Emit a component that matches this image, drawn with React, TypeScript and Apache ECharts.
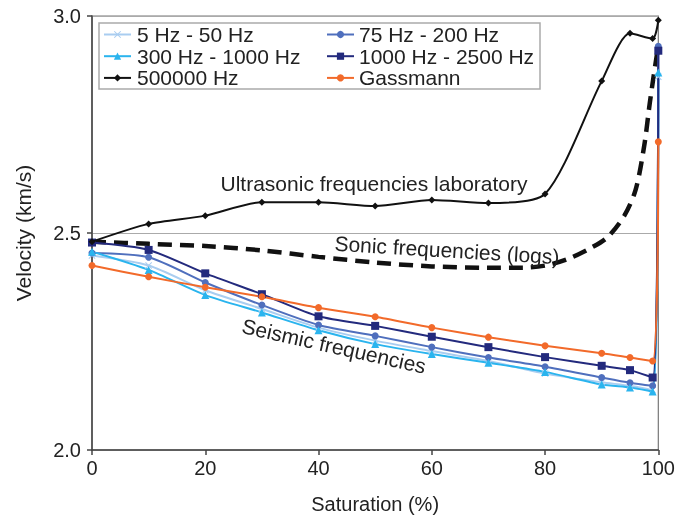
import React, { useEffect, useRef } from 'react';
import * as echarts from 'echarts';

const saturation = [0, 10, 20, 30, 40, 50, 60, 70, 80, 90, 95, 99, 100];
const hz5to50 = [2.448, 2.425, 2.368, 2.325, 2.282, 2.252, 2.228, 2.205, 2.176, 2.156, 2.148, 2.138, 2.86];
const hz75to200 = [2.454, 2.444, 2.386, 2.334, 2.288, 2.263, 2.237, 2.213, 2.192, 2.167, 2.155, 2.148, 2.93];
const hz300to1000 = [2.457, 2.415, 2.357, 2.317, 2.276, 2.244, 2.221, 2.201, 2.18, 2.151, 2.144, 2.135, 2.87];
const hz1000to2500 = [2.478, 2.461, 2.407, 2.359, 2.308, 2.286, 2.261, 2.237, 2.214, 2.194, 2.184, 2.167, 2.92];
const hz500000 = [2.48, 2.521, 2.54, 2.571, 2.571, 2.562, 2.576, 2.569, 2.59, 2.85, 2.96, 2.948, 2.99];
const gassmann = [2.425, 2.399, 2.375, 2.353, 2.328, 2.307, 2.282, 2.26, 2.24, 2.223, 2.213, 2.205, 2.71];

const sonicSaturation = [0, 10, 20, 30, 40, 50, 60, 70, 76, 80, 84, 88, 91, 94, 96, 97.5, 98.5, 99.5, 100];
const sonicVelocity = [2.48, 2.475, 2.47, 2.46, 2.445, 2.432, 2.423, 2.42, 2.42, 2.425, 2.44, 2.465, 2.49, 2.54, 2.6, 2.7, 2.8, 2.89, 2.93];

const xTicks = [0, 20, 40, 60, 80, 100];
const yTicks = ['2.0', '2.5', '3.0'];

const FONT = "'Liberation Sans', Arial, sans-serif";

const pair = (xs: number[], ys: number[]) => xs.map((x, i) => [x, ys[i]]);

const crossPath = 'path://M0,1L1,0L5,4L9,0L10,1L6,5L10,9L9,10L5,6L1,10L0,9L4,5Z';

export default function App() {
  const ref = useRef<HTMLDivElement>(null);
  useEffect(() => {
    if (!ref.current) return;
    const chart = echarts.init(ref.current, undefined, { renderer: 'svg' });
    const mk = (name: string, ys: number[], color: string, symbol: string, size: number, extra: any = {}) => ({
      name,
      type: 'line',
      data: pair(saturation, ys),
      smooth: 0.25,
      symbol,
      symbolSize: size,
      lineStyle: { color, width: 2 },
      itemStyle: { color },
      z: 3,
      ...extra,
    });
    chart.setOption({
      animation: false,
      grid: { left: 92, right: 16, top: 16, bottom: 67, show: true, borderColor: '#777', borderWidth: 1.2 },
      xAxis: {
        type: 'value',
        min: 0,
        max: 100,
        interval: 20,
        name: 'Saturation (%)',
        nameLocation: 'middle',
        nameGap: 44,
        nameTextStyle: { fontSize: 20, color: '#222', fontFamily: FONT },
        axisLine: { show: true, lineStyle: { color: '#444', width: 1.5 } },
        axisTick: { show: true, inside: false, length: 5, lineStyle: { color: '#444', width: 1.5 } },
        axisLabel: {
          fontSize: 20,
          color: '#222',
          fontFamily: FONT,
          margin: 8,
          formatter: (v: number) => (xTicks.includes(v) ? String(v) : ''),
        },
        splitLine: { show: false },
      },
      yAxis: {
        type: 'value',
        min: 2.0,
        max: 3.0,
        interval: 0.5,
        name: 'Velocity (km/s)',
        nameLocation: 'middle',
        nameGap: 58,
        nameRotate: 90,
        nameTextStyle: { fontSize: 21, color: '#222', fontFamily: FONT },
        axisLine: { show: true, lineStyle: { color: '#444', width: 1.5 } },
        axisTick: { show: true, inside: false, length: 5, lineStyle: { color: '#444', width: 1.5 } },
        axisLabel: {
          fontSize: 20,
          color: '#222',
          fontFamily: FONT,
          margin: 11,
          formatter: (v: number) => {
            const s = v.toFixed(1);
            return yTicks.includes(s) ? s : '';
          },
        },
        splitLine: { show: true, lineStyle: { color: '#aaa', width: 1 } },
      },
      legend: [
        {
          orient: 'vertical',
          left: 103,
          top: 24,
          padding: 0,
          itemGap: 0.7,
          itemWidth: 27,
          itemHeight: 9,
          z: 10,
          textStyle: { fontSize: 21, lineHeight: 21, color: '#222', fontFamily: FONT, padding: [0, 0, 0, 1] },
          data: ['5 Hz - 50 Hz', '300 Hz - 1000 Hz', '500000 Hz'],
        },
        {
          orient: 'vertical',
          left: 326,
          top: 24,
          padding: 0,
          itemGap: 0.7,
          itemWidth: 27,
          itemHeight: 9,
          z: 10,
          textStyle: { fontSize: 21, lineHeight: 21, color: '#222', fontFamily: FONT, padding: [0, 0, 0, 0] },
          data: ['75 Hz - 200 Hz', '1000 Hz - 2500 Hz', 'Gassmann'],
        },
      ],
      graphic: [
        {
          type: 'rect',
          z: 5,
          shape: { x: 99, y: 23, width: 441, height: 66 },
          style: { fill: '#fff', stroke: '#aaa', lineWidth: 1.5 },
        },
        {
          type: 'text',
          z: 20,
          x: 374,
          y: 183,
          style: { text: 'Ultrasonic frequencies laboratory', fontSize: 21, fontFamily: FONT, fill: '#222', align: 'center', verticalAlign: 'middle' },
        },
        {
          type: 'text',
          z: 20,
          x: 447,
          y: 250,
          rotation: -0.06,
          style: { text: 'Sonic frequencies (logs)', fontSize: 21, fontFamily: FONT, fill: '#222', align: 'center', verticalAlign: 'middle' },
        },
        {
          type: 'text',
          z: 20,
          x: 334,
          y: 346,
          rotation: -0.22,
          style: { text: 'Seismic frequencies', fontSize: 21, fontFamily: FONT, fill: '#222', align: 'center', verticalAlign: 'middle' },
        },
      ],
      series: [
        {
          name: 'Sonic frequencies (logs)',
          type: 'line',
          data: pair(sonicSaturation, sonicVelocity),
          smooth: 0.3,
          showSymbol: false,
          symbol: 'none',
          lineStyle: { color: '#111', width: 4.5, type: [14, 8] },
          z: 2,
        },
        mk('5 Hz - 50 Hz', hz5to50, '#a9cdf0', crossPath, 7),
        mk('75 Hz - 200 Hz', hz75to200, '#4f6fbd', 'circle', 7),
        mk('300 Hz - 1000 Hz', hz300to1000, '#2ab4ee', 'triangle', 8),
        mk('1000 Hz - 2500 Hz', hz1000to2500, '#232a7d', 'rect', 8),
        mk('Gassmann', gassmann, '#f26a2a', 'circle', 7),
        mk('500000 Hz', hz500000, '#111111', 'diamond', 7, { z: 4 }),
      ],
    });
    return () => chart.dispose();
  }, []);
  return <div ref={ref} style={{ position: 'fixed', left: 0, top: 0, width: 678, height: 519 }} />;
}
